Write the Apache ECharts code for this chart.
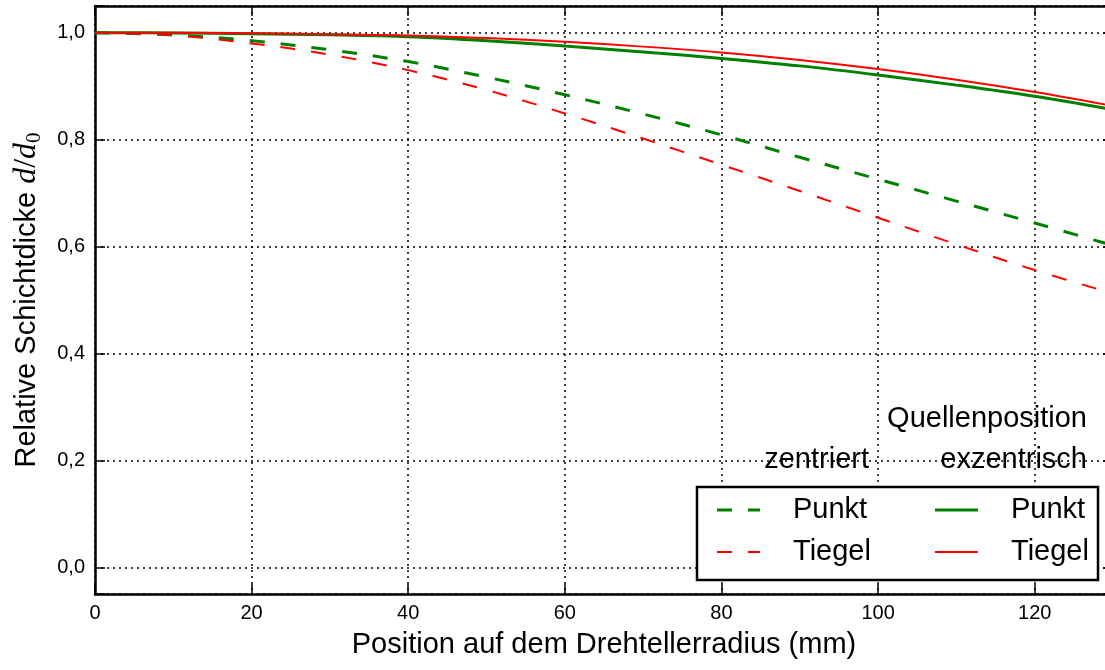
<!DOCTYPE html>
<html>
<head>
<meta charset="utf-8">
<script src="https://cdn.jsdelivr.net/npm/echarts@6/dist/echarts.min.js"></script>
<style>
  html, body { margin: 0; padding: 0; background: #ffffff; }
  #chart { width: 1105px; height: 670px; }
</style>
</head>
<body>
<div id="chart"></div>
<script>
// Radial position on the turntable (mm)
const positions = [0, 10, 20, 30, 40, 50, 60, 70, 80, 90, 100, 110, 120, 130];

// Relative layer thickness d/d0 — source centred
const zentriertPunkt  = [1.000, 0.996, 0.985, 0.968, 0.946, 0.917, 0.884, 0.848, 0.809, 0.767, 0.726, 0.685, 0.644, 0.602];
const zentriertTiegel = [1.000, 0.995, 0.980, 0.959, 0.930, 0.893, 0.849, 0.802, 0.753, 0.704, 0.654, 0.604, 0.556, 0.512];

// Relative layer thickness d/d0 — source eccentric
const exzentrischPunkt  = [1.000, 0.9995, 0.998, 0.996, 0.9925, 0.985, 0.975, 0.964, 0.952, 0.938, 0.921, 0.902, 0.881, 0.856];
const exzentrischTiegel = [1.000, 0.9998, 0.999, 0.997, 0.995, 0.990, 0.983, 0.974, 0.963, 0.949, 0.932, 0.912, 0.889, 0.863];

// Tick labels
const xTicks = [0, 20, 40, 60, 80, 100, 120];
const yTicks = [0.0, 0.2, 0.4, 0.6, 0.8, 1.0];

const FONT = 'Liberation Sans';
const GREEN = '#008000';
const RED = '#ff0000';

const pairs = (ys) => positions.map((x, i) => [x, ys[i]]);
const fmtY = (v) => {
  const hit = yTicks.find(t => Math.abs(t - v) < 1e-9);
  return hit === undefined ? '' : hit.toFixed(1).replace('.', ',');
};
const fmtX = (v) => (xTicks.indexOf(v) >= 0 ? String(v) : '');

const axisLine = { show: true, onZero: false, lineStyle: { color: '#000', width: 2.5 } };
const axisTick = { show: true, inside: true, length: 10, lineStyle: { color: '#000', width: 1.5 } };
const gridLine = { show: true, lineStyle: { color: '#000', width: 1.5, type: [2, 4] } };

function lineSeries(name, data, color, width, dashed) {
  return {
    name: name,
    type: 'line',
    data: pairs(data),
    smooth: 0.35,
    symbol: 'none',
    showSymbol: false,
    color: color,
    lineStyle: { color: color, width: width, type: dashed ? [15, 16] : 'solid' },
    emphasis: { disabled: true },
    animation: false
  };
}

// One legend block per entry so each sample can carry its own stroke height
const DASH_ICON_3 = 'path://M0,0H15V3H0ZM31,0H43V3H31Z';
const DASH_ICON_2 = 'path://M0,0H15V2H0ZM31,0H43V2H31Z';
function legendEntry(name, left, top, icon, height) {
  return {
    orient: 'vertical',
    left: left,
    top: top,
    icon: icon,
    itemWidth: 43,
    itemHeight: height,
    padding: 0,
    selectedMode: false,
    data: [name],
    formatter: (n) => n.split(' ')[1],
    textStyle: { fontFamily: FONT, fontSize: 29, color: '#000', lineHeight: 30, padding: [0, 0, 0, 28] },
    z: 6
  };
}

const chart = echarts.init(document.getElementById('chart'), null, { renderer: 'canvas' });

chart.setOption({
  animation: false,
  backgroundColor: '#ffffff',
  // the plot frame runs slightly past the right edge of the canvas
  grid: { left: 95, top: 6, width: 1018, height: 588, containLabel: false, outerBoundsMode: 'none' },
  xAxis: [
    {
      type: 'value', position: 'bottom', min: 0, max: 130, interval: 20,
      name: 'Position auf dem Drehtellerradius (mm)',
      nameLocation: 'middle', nameGap: 36,
      nameTextStyle: { fontFamily: FONT, fontSize: 29, color: '#000' },
      axisLine: axisLine, axisTick: axisTick, splitLine: gridLine,
      axisLabel: { fontFamily: FONT, fontSize: 20, color: '#000', margin: 9, formatter: fmtX }
    },
    {
      type: 'value', position: 'top', min: 0, max: 130, interval: 20,
      axisLine: axisLine, axisTick: axisTick, splitLine: { show: false },
      axisLabel: { show: false }
    }
  ],
  yAxis: [
    {
      type: 'value', position: 'left', min: -0.05, max: 1.05, splitNumber: 5,
      name: 'Relative Schichtdicke {m|d}{s|/}{m|d}{sub|0}',
      nameLocation: 'middle', nameGap: 50, nameRotate: 90,
      nameTextStyle: {
        fontFamily: FONT, fontSize: 29, color: '#000', lineHeight: 36,
        rich: {
          m: { fontFamily: 'Liberation Serif', fontStyle: 'italic', fontSize: 32, color: '#000', lineHeight: 36 },
          s: { fontFamily: 'Liberation Serif', fontSize: 32, color: '#000', lineHeight: 36 },
          sub: { fontFamily: 'Liberation Serif', fontSize: 21, color: '#000', lineHeight: 12, verticalAlign: 'bottom' }
        }
      },
      axisLine: axisLine, axisTick: axisTick, splitLine: gridLine,
      axisLabel: { fontFamily: FONT, fontSize: 20, color: '#000', margin: 10, formatter: fmtY }
    },
    {
      type: 'value', position: 'right', min: -0.05, max: 1.05, splitNumber: 5,
      axisLine: axisLine, axisTick: axisTick, splitLine: { show: false },
      axisLabel: { show: false }
    }
  ],
  legend: [
    legendEntry('zentriert Punkt', 717, 495, DASH_ICON_3, 3),
    legendEntry('zentriert Tiegel', 717, 537, DASH_ICON_2, 2),
    legendEntry('exzentrisch Punkt', 935, 495, 'rect', 3),
    legendEntry('exzentrisch Tiegel', 935, 537, 'rect', 2)
  ],
  graphic: [
    {
      type: 'rect', z: 5,
      shape: { x: 697, y: 487, width: 401, height: 93 },
      style: { fill: '#ffffff', stroke: '#000', lineWidth: 2.5 }
    },
    {
      type: 'text', z: 6, x: 1087, y: 419,
      style: { text: 'Quellenposition', fontFamily: FONT, fontSize: 29, fill: '#000', align: 'right', verticalAlign: 'middle' }
    },
    {
      type: 'text', z: 6, x: 869, y: 460,
      style: { text: 'zentriert', fontFamily: FONT, fontSize: 29, fill: '#000', align: 'right', verticalAlign: 'middle' }
    },
    {
      type: 'text', z: 6, x: 1087, y: 460,
      style: { text: 'exzentrisch', fontFamily: FONT, fontSize: 29, fill: '#000', align: 'right', verticalAlign: 'middle' }
    }
  ],
  series: [
    lineSeries('zentriert Punkt', zentriertPunkt, GREEN, 3, true),
    lineSeries('zentriert Tiegel', zentriertTiegel, RED, 2, true),
    lineSeries('exzentrisch Punkt', exzentrischPunkt, GREEN, 3, false),
    lineSeries('exzentrisch Tiegel', exzentrischTiegel, RED, 2, false)
  ]
});
</script>
</body>
</html>
